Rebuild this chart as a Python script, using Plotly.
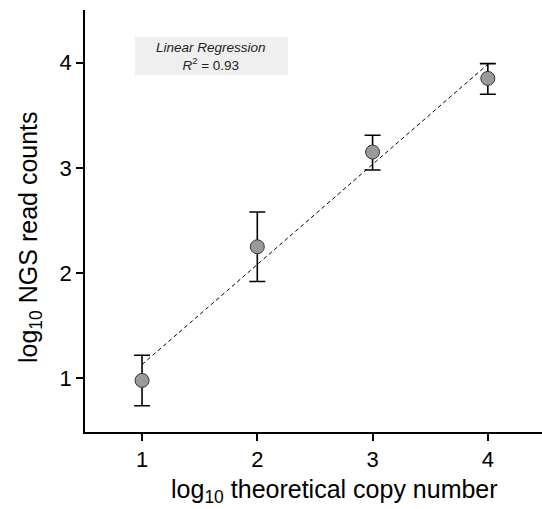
import numpy as np
import plotly.graph_objects as go

copy_number_log = [1, 2, 3, 4]
read_counts_log = [0.98, 2.25, 3.15, 3.85]
err_plus = [0.24, 0.33, 0.16, 0.14]
err_minus = [0.24, 0.33, 0.17, 0.15]
x_ticks = [1, 2, 3, 4]
y_ticks = [1, 2, 3, 4]
r_squared = 0.93
x_title = "log<sub>10</sub> theoretical copy number"
y_title = "log<sub>10</sub> NGS read counts"

slope, intercept = np.polyfit(copy_number_log, read_counts_log, 1)
fit_x = [min(copy_number_log), max(copy_number_log)]
fit_y = [slope * v + intercept for v in fit_x]

FONT = "Liberation Sans, Arial"
L, T, B = 85, 10, 77
W, H = 542, 509
PW, PH = W - L, H - T - B


def px(xp):
    return (xp - L) / PW


def py(yp):
    return (H - B - yp) / PH


fig = go.Figure()
fig.add_trace(go.Scatter(
    x=fit_x, y=fit_y, mode="lines",
    line=dict(color="black", width=1, dash="4px,3px"),
    hoverinfo="skip", showlegend=False))
fig.add_trace(go.Scatter(
    x=copy_number_log, y=read_counts_log, mode="markers",
    marker=dict(size=14, color="#9a9a9a", line=dict(color="#333333", width=1)),
    error_y=dict(type="data", symmetric=False, array=err_plus, arrayminus=err_minus,
                 color="black", thickness=1.6, width=8),
    showlegend=False))

fig.add_shape(type="rect", xref="paper", yref="paper",
              x0=px(135), x1=px(288), y0=py(75), y1=py(37),
              fillcolor="#efefef", line=dict(width=0), layer="below")
fig.add_annotation(xref="paper", yref="paper", x=px(211), y=py(56),
                   xanchor="center", yanchor="middle",
                   text="<i>Linear Regression</i><br><i>R</i><sup>2</sup> = %.2f" % r_squared,
                   showarrow=False, align="center",
                   font=dict(family=FONT, size=13.5, color="#222222"))

# axis titles
fig.add_annotation(xref="paper", yref="paper", x=px(334), y=py(491),
                   xanchor="center", yanchor="middle", text=x_title, showarrow=False,
                   font=dict(family=FONT, size=25, color="black"))
fig.add_annotation(xref="paper", yref="paper", x=px(30), y=py(237),
                   xanchor="center", yanchor="middle", text=y_title, showarrow=False,
                   textangle=-90, font=dict(family=FONT, size=25, color="black"))

axis_common = dict(showline=True, linecolor="black", linewidth=1.5,
                   ticks="outside", ticklen=7, tickwidth=1.5, tickcolor="black",
                   showgrid=False, zeroline=False,
                   tickfont=dict(family=FONT, size=22, color="black"))

fig.update_layout(
    width=W, height=H,
    margin=dict(l=L, r=0, t=T, b=B),
    paper_bgcolor="white", plot_bgcolor="white",
    xaxis=dict(range=[0.505, 4.47], tickvals=x_ticks, **axis_common),
    yaxis=dict(range=[0.49, 4.5], tickvals=y_ticks, **axis_common),
)

fig.write_html("out.html")
